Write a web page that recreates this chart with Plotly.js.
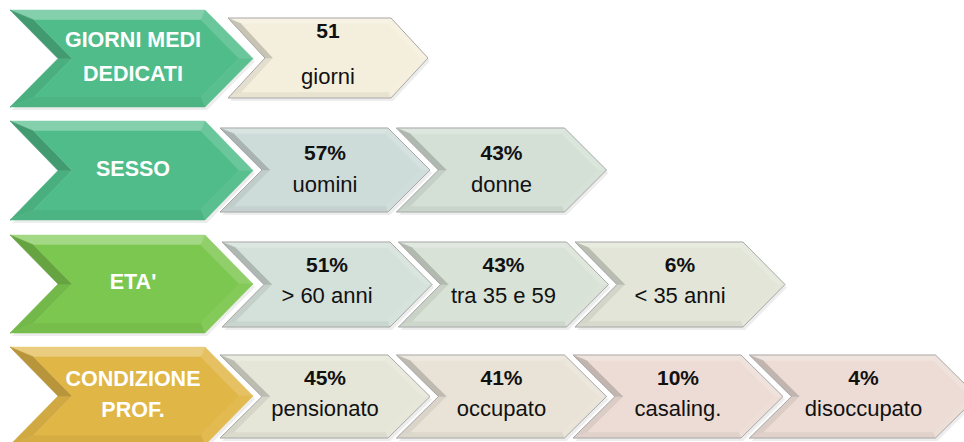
<!DOCTYPE html>
<html>
<head>
<meta charset="utf-8">
<script src="https://cdn.plot.ly/plotly-3.0.1.min.js"></script>
<style>
  body { margin: 0; background: #fff; }
  #chart { width: 964px; height: 442px; }
</style>
</head>
<body>
<div id="chart"></div>
<script>
// Profile data
const rowTitles = ['GIORNI MEDI<br>DEDICATI', 'SESSO', "ETA'", 'CONDIZIONE<br>PROF.'];
const giorniValues = [51];
const giorniLabels = ['giorni'];
const sessoValues = [57, 43];
const sessoLabels = ['uomini', 'donne'];
const etaValues = [51, 43, 6];
const etaLabels = ['> 60 anni', 'tra 35 e 59', '< 35 anni'];
const condValues = [45, 41, 10, 4];
const condLabels = ['pensionato', 'occupato', 'casaling.', 'disoccupato'];
const units = ['', '%', '%', '%'];

const rowValues = [giorniValues, sessoValues, etaValues, condValues];
const rowLabels = [giorniLabels, sessoLabels, etaLabels, condLabels];

// layout of the rows (pixels, y down)
const rows = [
  { big: [10, 107], small: [18, 98], x0: 228, w: 163, d: 37, valDy: -25, labDy: 20, lineGap: 34 },
  { big: [121, 220], small: [128, 212], x0: 220, w: 168, d: 42, valDy: -15, labDy: 16, lineGap: 34 },
  { big: [235, 333], small: [242, 327], x0: 222, w: 168, d: 42, valDy: -18, labDy: 13, lineGap: 34 },
  { big: [347, 445], small: [355, 438], x0: 220, w: 168, d: 42, valDy: -17, labDy: 14, lineGap: 31 }
];
const step = 176.5;
const bigColors = ['#50bc89', '#50bc89', '#7cc74f', '#e0b647'];
const smallColors = [
  ['#f4efdc'],
  ['#cedcd9', '#d4e0d6'],
  ['#d4e0da', '#d9e2d6', '#e2e5d7'],
  ['#e5e6d7', '#e9e3d7', '#ecdcd5', '#ecdcd5']
];

function hex2rgb(h) {
  return [parseInt(h.slice(1, 3), 16), parseInt(h.slice(3, 5), 16), parseInt(h.slice(5, 7), 16)];
}
function shade(h, f) {
  const c = hex2rgb(h).map(v => f >= 0 ? v + (255 - v) * f : v * (1 + f));
  return 'rgb(' + c.map(v => Math.round(v)).join(',') + ')';
}

function chevron(x0, w, depth, top, bot) {
  const m = (top + bot) / 2;
  return [[x0, top], [x0 + w, top], [x0 + w + depth, m], [x0 + w, bot], [x0, bot], [x0 + depth, m]];
}

function facets(x0, w, depth, top, bot, d, topF) {
  const h2 = (bot - top) / 2, m = top + h2;
  const s = d * Math.hypot(depth, h2) / h2;
  const k = depth * d / h2;
  const O = chevron(x0, w, depth, top, bot);
  const I = [[x0 + k + s, top + d], [x0 + w + k - s, top + d], [x0 + w + depth - s, m],
             [x0 + w + k - s, bot - d], [x0 + k + s, bot - d], [x0 + depth + s, m]];
  return { O, I, parts: [
    [[O[0], O[1], I[1], I[0]], topF],   // top
    [[O[1], O[2], I[2], I[1]], 0.15],   // right upper
    [[O[2], O[3], I[3], I[2]], 0.05],   // right lower
    [[O[3], O[4], I[4], I[3]], -0.05],  // bottom
    [[O[4], O[5], I[5], I[4]], -0.07],  // left lower
    [[O[5], O[0], I[0], I[5]], -0.18]   // left upper
  ]};
}

const traces = [];
function poly(pts, fill, line, lw) {
  traces.push({
    x: pts.map(p => p[0]).concat([pts[0][0]]),
    y: pts.map(p => p[1]).concat([pts[0][1]]),
    type: 'scatter', mode: 'lines', fill: 'toself',
    fillcolor: fill, line: { color: line || fill, width: lw === undefined ? 0.5 : lw },
    hoverinfo: 'skip', showlegend: false
  });
}
function drawChevron(x0, w, depth, top, bot, bevel, color, outline, topF) {
  const shadow = chevron(x0 + 2, w, depth, top + 3, bot + 3);
  poly(shadow, 'rgba(0,0,0,0.07)', 'rgba(0,0,0,0)', 0);
  const f = facets(x0, w, depth, top, bot, bevel, topF);
  f.parts.forEach(p => poly(p[0], shade(color, p[1])));
  poly(f.I, color);
  if (outline) poly(f.O, 'rgba(0,0,0,0)', outline, 1);
}

const textX = [], textY = [], textS = [];
const valX = [], valY = [], valS = [];
const titleX = [], titleY = [], titleS = [];

rows.forEach((r, ri) => {
  const vals = rowValues[ri], labs = rowLabels[ri];
  const sm = (r.small[0] + r.small[1]) / 2;
  // small chevrons, right to left
  for (let i = vals.length - 1; i >= 0; i--) {
    const x0 = r.x0 + i * step;
    const w = (ri === 3 && i === vals.length - 1) ? 186 : r.w;
    drawChevron(x0, w, r.d, r.small[0], r.small[1], 6, smallColors[ri][i], '#a9a9a9', 0.22);
    const cx = x0 + (w + r.d) / 2;
    valX.push(cx); valY.push(sm + r.valDy); valS.push('<b>' + vals[i] + units[ri] + '</b>');
    textX.push(cx); textY.push(sm + r.labDy); textS.push(labs[i]);
  }
  // big title chevron
  drawChevron(10, 195, 48, r.big[0], r.big[1], 10, bigColors[ri], null, 0.3);
  const lines = rowTitles[ri].split('<br>');
  const bm = (r.big[0] + Math.min(r.big[1], 442)) / 2 + (ri === 3 ? 2 : 0);
  lines.forEach((ln, li) => {
    titleX.push(133);
    titleY.push(bm + (li - (lines.length - 1) / 2) * r.lineGap);
    titleS.push('<b>' + ln + '</b>');
  });
});

const font = 'Liberation Sans, Arial, sans-serif';
traces.push({
  x: valX, y: valY, text: valS, type: 'scatter', mode: 'text',
  textfont: { family: font, size: 21, color: '#111' },
  hoverinfo: 'skip', showlegend: false
});
traces.push({
  x: textX, y: textY, text: textS, type: 'scatter', mode: 'text',
  textfont: { family: font, size: 22, color: '#111' },
  hoverinfo: 'skip', showlegend: false
});
traces.push({
  x: titleX, y: titleY, text: titleS, type: 'scatter', mode: 'text',
  textfont: { family: font, size: 21.5, color: '#ffffff' },
  hoverinfo: 'skip', showlegend: false
});

Plotly.newPlot('chart', traces, {
  width: 964, height: 442,
  margin: { l: 0, r: 0, t: 0, b: 0 },
  xaxis: { range: [0, 964], visible: false, fixedrange: true },
  yaxis: { range: [442, 0], visible: false, fixedrange: true },
  plot_bgcolor: '#ffffff',
  paper_bgcolor: '#ffffff',
  showlegend: false
}, { staticPlot: true });
</script>
</body>
</html>
